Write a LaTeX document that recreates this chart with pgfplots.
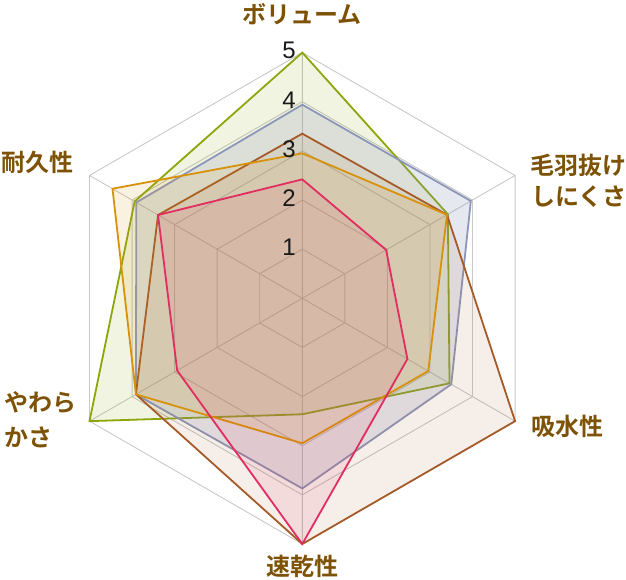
\documentclass[border=0pt]{standalone}
\usepackage{pgfplots}
\pgfplotsset{compat=1.18}
\usepackage{fontspec}
\setmainfont{Liberation Sans}
\newfontfamily\jp{Noto Sans CJK JP Bold}
\definecolor{cgreen}{RGB}{140,166,10}
\definecolor{cblue}{RGB}{140,150,185}
\definecolor{cbrown}{RGB}{165,90,40}
\definecolor{corange}{RGB}{215,145,10}
\definecolor{cred}{RGB}{225,45,95}
\definecolor{labc}{RGB}{125,82,5}
\definecolor{gridc}{RGB}{200,200,200}
\begin{document}
\begin{tikzpicture}
\begin{axis}[hide axis, xmin=-5, xmax=5, ymin=-5, ymax=5,
  scale only axis, width=491.4pt, height=491.4pt, clip=false,
  enlargelimits=false]
\coordinate (c) at (axis cs:0,0);
% grid
\foreach \r in {1,2,3,4,5} {
  \edef\tmp{\noexpand\addplot[gridc, line width=0.9pt, data cs=polar, forget plot] coordinates {(90,\r) (30,\r) (-30,\r) (-90,\r) (-150,\r) (150,\r) (90,\r)};}
  \tmp
}
\addplot[gridc, line width=0.9pt, data cs=polar, forget plot] coordinates {(90,5) (90,0) (30,5)};
\addplot[gridc, line width=0.9pt, data cs=polar, forget plot] coordinates {(-30,5) (0,0) (-90,5)};
\addplot[gridc, line width=0.9pt, data cs=polar, forget plot] coordinates {(-150,5) (0,0) (150,5)};
% series: ボリューム, 毛羽抜けしにくさ, 吸水性, 速乾性, やわらかさ, 耐久性
\addplot[cgreen, line width=1.8pt, line join=miter, fill=cgreen, fill opacity=0.12, draw opacity=1, data cs=polar]
  coordinates {(90,5) (30,3.42) (-30,3.46) (-90,2.36) (-150,5) (150,3.94) (90,5)} -- cycle;
\addplot[cblue, line width=1.8pt, line join=miter, fill=cblue, fill opacity=0.22, draw opacity=1, data cs=polar]
  coordinates {(90,3.94) (30,3.96) (-30,3.5) (-90,3.87) (-150,3.91) (150,3.9) (90,3.94)} -- cycle;
\addplot[cbrown, line width=1.8pt, line join=miter, fill=cbrown, fill opacity=0.1, draw opacity=1, data cs=polar]
  coordinates {(90,3.35) (30,3.4) (-30,5) (-90,5) (-150,3.91) (150,3.39) (90,3.35)} -- cycle;
\addplot[corange, line width=1.8pt, line join=miter, fill=corange, fill opacity=0.12, draw opacity=1, data cs=polar]
  coordinates {(90,2.95) (30,3.4) (-30,2.96) (-90,2.95) (-150,3.91) (150,4.46) (90,2.95)} -- cycle;
\addplot[cred, line width=1.8pt, line join=miter, fill=cred, fill opacity=0.1, draw opacity=1, data cs=polar]
  coordinates {(90,2.42) (30,1.97) (-30,2.47) (-90,5) (-150,2.94) (150,3.39) (90,2.42)} -- cycle;
% value labels
\foreach \v in {1,2,3,4,5} {
  \edef\tmp{\noexpand\node[inner sep=0pt, anchor=center, font=\noexpand\fontsize{24}{24}\noexpand\selectfont, text=black!90] at (axis cs:-0.27,\v.04) {\v};}
  \tmp
}
\end{axis}
\begin{scope}[every node/.style={inner sep=0pt, text=labc, font=\jp\fontsize{24}{24}\selectfont}]
\node[anchor=center] at ([shift={(0pt,284.3pt)}]c) {ボリューム};
\node[anchor=west] at ([shift={(227.7pt,133.3pt)}]c) {毛羽抜け};
\node[anchor=west] at ([shift={(228.7pt,101.3pt)}]c) {しにくさ};
\node[anchor=west] at ([shift={(228.7pt,-127.7pt)}]c) {吸水性};
\node[anchor=center] at ([shift={(0pt,-267.7pt)}]c) {速乾性};
\node[anchor=west] at ([shift={(-298.3pt,-104.7pt)}]c) {やわら};
\node[anchor=west] at ([shift={(-298.3pt,-138.7pt)}]c) {かさ};
\node[anchor=west] at ([shift={(-301.3pt,136.3pt)}]c) {耐久性};
\end{scope}
\pgfresetboundingbox
\path[use as bounding box] ([shift={(-302.3pt,298.3pt)}]c) rectangle ([shift={(323.7pt,-280.7pt)}]c);
\end{tikzpicture}
\end{document}
